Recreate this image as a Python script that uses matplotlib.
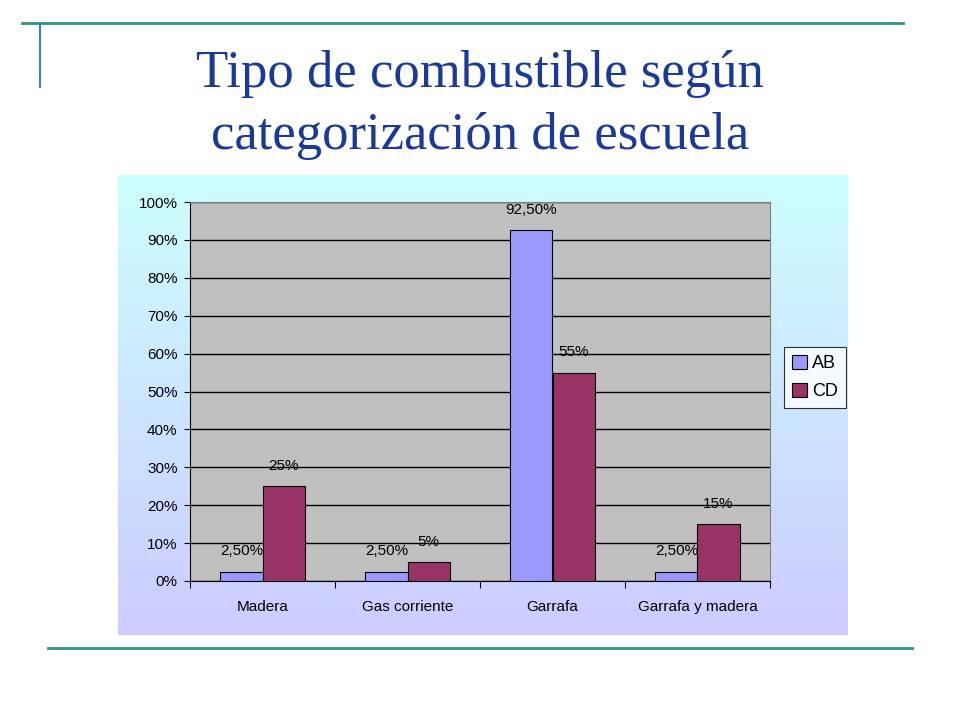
import numpy as np
import matplotlib.pyplot as plt
from matplotlib.ticker import FuncFormatter
from matplotlib.lines import Line2D

categories = ['Madera', 'Gas corriente', 'Garrafa', 'Garrafa y madera']
ab_values = [2.5, 2.5, 92.5, 2.5]
cd_values = [25, 5, 55, 15]
ab_labels = ['2,50%', '2,50%', '92,50%', '2,50%']
cd_labels = ['25%', '5%', '55%', '15%']
series_names = ['AB', 'CD']

W, H = 960, 720
fig = plt.figure(figsize=(9.6, 7.2), dpi=100)
fig.patch.set_facecolor('white')

def px_axes(x0, y0, x1, y1):
    # pixel box (top-left origin) -> figure axes
    return fig.add_axes([x0 / W, (H - y1) / H, (x1 - x0) / W, (y1 - y0) / H])

teal = '#2E8F8C'
fig.add_artist(Line2D([22 / W, 903 / W], [1 - 23 / H, 1 - 23 / H], color=teal, lw=2))
fig.add_artist(Line2D([40 / W, 40 / W], [1 - 23 / H, 1 - 87 / H], color=teal, lw=1.5))
fig.add_artist(Line2D([48 / W, 912 / W], [1 - 648 / H, 1 - 648 / H], color=teal, lw=2))

fig.text(480 / W, 1 - 74 / H, 'Tipo de combustible según', ha='center', va='center',
         fontsize=38, color='#1A3A9A', family='Liberation Serif')
fig.text(480 / W, 1 - 136 / H, 'categorización de escuela', ha='center', va='center',
         fontsize=38, color='#1A3A9A', family='Liberation Serif')

# chart area background gradient
bg = px_axes(118, 175, 848, 635)
grad = np.linspace(0, 1, 256).reshape(-1, 1)
top = np.array([0.80, 1.0, 1.0])
bot = np.array([0.80, 0.80, 1.0])
img = top[None, None, :] * (1 - grad[:, :, None]) + bot[None, None, :] * grad[:, :, None]
bg.imshow(img, aspect='auto', extent=[0, 1, 0, 1])
bg.set_axis_off()

ax = px_axes(190, 202, 770, 581)
ax.set_facecolor('#C0C0C0')
x = np.arange(len(categories))
bw = 0.29
b1 = ax.bar(x - bw / 2, ab_values, bw, color='#9999FF', edgecolor='black', linewidth=0.8, label=series_names[0], zorder=3)
b2 = ax.bar(x + bw / 2, cd_values, bw, color='#993366', edgecolor='black', linewidth=0.8, label=series_names[1], zorder=3)

for rect, lab in zip(b1, ab_labels):
    ax.text(rect.get_x() + rect.get_width() / 2, rect.get_height() + 3.5, lab,
            ha='center', va='bottom', fontsize=11, family='Liberation Sans')
for rect, lab in zip(b2, cd_labels):
    ax.text(rect.get_x() + rect.get_width() / 2, rect.get_height() + 3.5, lab,
            ha='center', va='bottom', fontsize=11, family='Liberation Sans')

ax.set_xlim(-0.5, 3.5)
ax.set_ylim(0, 100)
ax.set_yticks(np.arange(0, 101, 10))
ax.yaxis.set_major_formatter(FuncFormatter(lambda y, pos: '%d%%' % y))
ax.yaxis.grid(True, color='black', linewidth=1, zorder=1)
ax.set_axisbelow(True)
ax.set_xticks(np.arange(-0.5, 4, 1))
ax.set_xticklabels([])
ax.tick_params(axis='x', direction='out', length=5, color='black')
ax.tick_params(axis='y', direction='out', length=4, color='black', labelsize=11, pad=5)
for t in ax.get_yticklabels():
    t.set_family('Liberation Sans')
for i, c in enumerate(categories):
    ax.text(i, -6.8, c, ha='center', va='center', fontsize=11, family='Liberation Sans')
for s in ['top', 'right']:
    ax.spines[s].set_color('#808080')
ax.spines['left'].set_color('black')
ax.spines['bottom'].set_color('black')

leg = fig.legend(loc='upper left', bbox_to_anchor=(784 / W, 1 - 347 / H), frameon=True,
                 fancybox=False, edgecolor='black', handlelength=0.8, handleheight=0.8,
                 handletextpad=0.3, borderpad=0.45, labelspacing=0.6, borderaxespad=0,
                 prop={'family': 'Liberation Sans', 'size': 13})
leg.get_frame().set_linewidth(0.8)

fig.savefig('out.png', dpi=100)
